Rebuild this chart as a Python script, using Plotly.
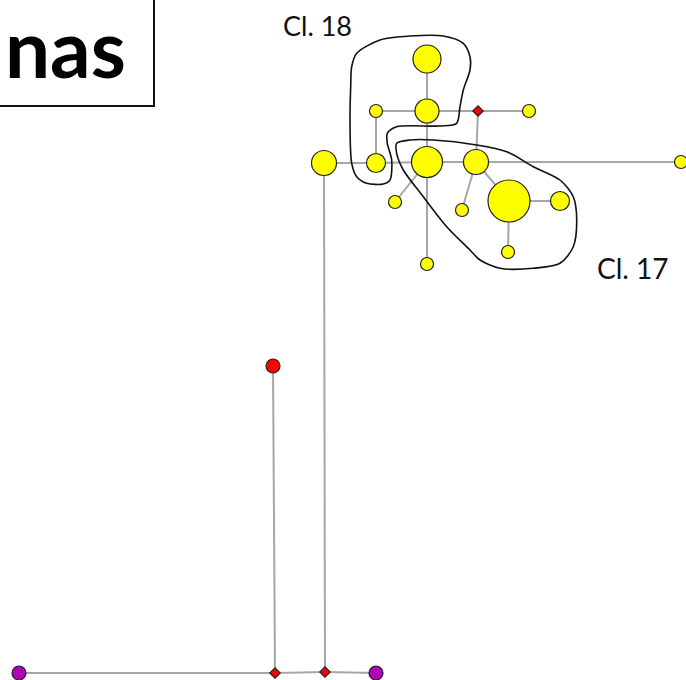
import plotly.graph_objects as go

# ---- data -------------------------------------------------------------
node_x = [427, 427, 376, 478, 529, 324, 376, 427, 476, 509, 560, 395, 462, 508, 427, 681, 273, 19, 275, 325, 376]
node_y = [59, 111, 111, 111, 111, 163, 163, 162, 162, 201, 201, 202, 210, 252, 264, 162, 366, 673, 673, 672, 673]
node_size = [28, 24, 13, 8, 13, 25, 19, 31, 25, 42, 19, 13, 13, 13, 13, 13, 14, 14, 8, 8, 14]
node_kind = ["Y", "Y", "Y", "M", "Y", "Y", "Y", "Y", "Y", "Y", "Y", "Y", "Y", "Y", "Y", "Y", "R", "P", "M", "M", "P"]

edges = [(0, 1), (1, 2), (2, 6), (1, 3), (3, 4), (3, 8), (1, 7), (5, 6), (6, 7), (7, 8),
         (8, 15), (7, 11), (7, 14), (8, 12), (8, 9), (9, 10), (9, 13), (5, 19), (16, 18),
         (17, 18), (18, 19), (19, 20)]
edge_tail_x = 690  # line 8-15 continues to the right edge

cl18_x = [351.7, 356.7, 380, 410, 443.3, 463.3, 470, 470, 463.3, 460, 456.7, 440, 396.7, 387.3,
          387.3, 391.7, 390, 383.3, 366.7, 356.7, 351.7, 350, 350.7, 351.7]
cl18_y = [66.7, 53.3, 40, 36, 36, 43.3, 56.7, 70, 90, 106.7, 123.3, 126, 126.7, 133.3,
          143.3, 160, 180, 184, 183.3, 176.7, 163.3, 120, 86.7, 66.7]
cl17_x = [396.7, 410, 433.3, 476.7, 506.7, 533.3, 560, 573.3, 576.7, 573.3, 560, 533.3, 500,
          480, 470, 446.7, 423.3, 403.3, 396.7, 396.7]
cl17_y = [143.3, 140, 140, 145, 151.7, 166.7, 180, 196.7, 220, 246.7, 263.3, 268.3, 268.3,
          260, 250, 226.7, 196.7, 170, 153.3, 143.3]

labels = ["Cl. 18", "Cl. 17", "nas"]

kind_color = {"Y": "#FFFF00", "R": "#FF0000", "P": "#B000B8", "M": "#FF0000"}
kind_symbol = {"Y": "circle", "R": "circle", "P": "circle", "M": "diamond"}

# ---- figure -----------------------------------------------------------
fig = go.Figure()

ex, ey = [], []
for a, b in edges:
    ex += [node_x[a], node_x[b], None]
    ey += [node_y[a], node_y[b], None]
ex += [node_x[15], edge_tail_x, None]
ey += [node_y[15], node_y[15], None]
fig.add_trace(go.Scatter(x=ex, y=ey, mode="lines", line=dict(color="#A6A6A6", width=2),
                         hoverinfo="skip", showlegend=False))

for cx, cy in [(cl18_x, cl18_y), (cl17_x, cl17_y)]:
    fig.add_trace(go.Scatter(x=cx, y=cy, mode="lines",
                             line=dict(color="#111111", width=1.6, shape="spline", smoothing=0.8),
                             hoverinfo="skip", showlegend=False))

fig.add_trace(go.Scatter(
    x=node_x, y=node_y, mode="markers",
    marker=dict(size=node_size, opacity=1,
                color=[kind_color[k] for k in node_kind],
                symbol=[kind_symbol[k] for k in node_kind],
                line=dict(color="#222222", width=1.2)),
    hoverinfo="skip", showlegend=False))

font_family = "Lato, 'Open Sans', sans-serif"
fig.add_annotation(x=317, y=25, text=labels[0], showarrow=False, xanchor="center", yanchor="middle",
                   font=dict(family=font_family, size=27, color="#111111"))
fig.add_annotation(x=633, y=268, text=labels[1], showarrow=False, xanchor="center", yanchor="middle",
                   font=dict(family=font_family, size=28, color="#111111"))
fig.add_annotation(x=128, y=47, text="<b>" + labels[2] + "</b>", showarrow=False,
                   xanchor="right", yanchor="middle",
                   font=dict(family=font_family, size=80, color="#000000"))

fig.add_shape(type="rect", x0=-20, y0=-20, x1=154, y1=106,
              line=dict(color="#111111", width=2), fillcolor="rgba(0,0,0,0)")

fig.update_layout(
    width=686, height=680,
    margin=dict(l=0, r=0, t=0, b=0),
    paper_bgcolor="white", plot_bgcolor="white",
    xaxis=dict(range=[0, 686], visible=False, fixedrange=True),
    yaxis=dict(range=[680, 0], visible=False, fixedrange=True),
)

fig.write_html("out.html", config={"displayModeBar": False},
               post_script="document.body.style.margin='0';document.body.style.padding='0';")
